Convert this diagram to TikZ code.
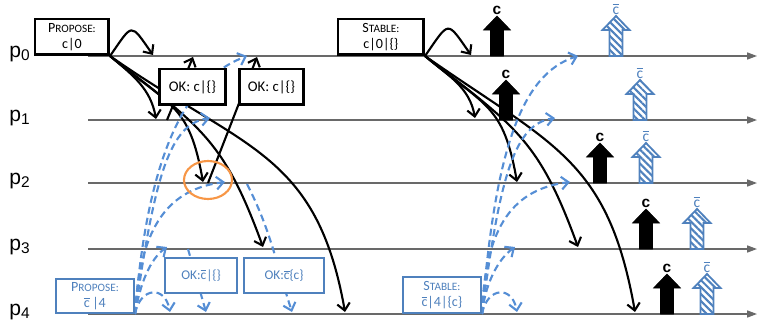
\documentclass[tikz,border=0pt]{standalone}
\usepackage{fontspec}
\setmainfont{Carlito}
\newfontfamily\arialfont{Liberation Sans}
\usetikzlibrary{arrows.meta,backgrounds,patterns.meta,shapes.geometric}
\definecolor{lanegray}{RGB}{105,105,105}
\definecolor{msgblue}{RGB}{85,142,213}
\definecolor{boxblue}{RGB}{79,129,189}
\definecolor{markorange}{RGB}{247,150,70}
\newcommand\fsc[2]{{\fontsize{10}{11}\selectfont #1}{\fontsize{8}{11}\selectfont #2}}
\newcommand\cbar{\(\overline{\mbox{c}}\)}
\newcommand\clabel{{\arialfont\bfseries\fontsize{11}{11}\selectfont c}}
\newcommand\cblabel{{\color{boxblue}\fontsize{11}{11}\selectfont\cbar}}
\newcommand\decide[5]{%
  \draw[#4] (#2-6.5,#3) -- (#2-6.5,#3+26) -- (#2-13.5,#3+26) -- (#2,#3+40)
    -- (#2+13.5,#3+26) -- (#2+6.5,#3+26) -- (#2+6.5,#3) -- cycle;
  \node[anchor=base, inner sep=0pt] (#1) at (#2,#3+42) {#5};}
\begin{document}
\begin{tikzpicture}[x=0.025cm, y=0.025cm,
  lane/.style={draw=lanegray, line width=0.9pt, -{Triangle[length=7pt,width=5pt]}},
  lanelabel/.style={anchor=base west, inner sep=0pt, font=\arialfont\fontsize{15}{15}\selectfont},
  msg/.style={line width=1.5pt, -{Straight Barb[length=5pt,width=9pt]}},
  bmsg/.style={msg, draw=msgblue, dash pattern=on 5pt off 3pt},
  evbox/.style={draw, line width=1.8pt, fill=white, minimum height=0.89cm, inner sep=1pt, align=center, font=\fontsize{10}{11}\selectfont},
  bevbox/.style={evbox, draw=boxblue, text=boxblue, line width=1.5pt},
  okbox/.style={evbox, font=\fontsize{10.5}{12}\selectfont},
  bokbox/.style={bevbox, minimum height=0.875cm, font=\fontsize{9.5}{11}\selectfont},
  cmark/.style={fill=black},
  bmark/.style={draw=boxblue, line width=1.3pt, pattern={Lines[angle=-45,distance=3.5pt,line width=1.5pt]}, pattern color=boxblue}]
  \useasboundingbox (0,0) rectangle (757,324);
  \foreach \i/\y in {0/268,1/204,2/141,3/75,4/10} {
    \node[lanelabel] (lab\i) at (9,\y-1) {p\raisebox{-2.5pt}{\fontsize{11}{11}\selectfont\i}};
    \coordinate (s\i) at (88,\y);
    \coordinate (e\i) at (757,\y);
  }
  % events
  \node[evbox, minimum width=1.84cm, anchor=south east] (prop) at (110,268) {\fsc{P}{ROPOSE:}\\c|0};
  \node[okbox, minimum width=1.66cm, anchor=south west] (ok1) at (158,218) {OK: c|\{\}};
  \node[okbox, minimum width=1.61cm, anchor=south west] (ok2) at (238,218) {OK: c|\{\}};
  \node[evbox, minimum width=2.14cm, anchor=south east] (stab) at (425,268) {\fsc{S}{TABLE:}\\c|0|\{\}};
  \node[bevbox, minimum width=1.95cm, minimum height=0.85cm, anchor=south east] (bprop) at (135,10) {\fsc{P}{ROPOSE:}\\\cbar\,|4};
  \node[bokbox, minimum width=1.8cm, anchor=south west] (bok1) at (164,30) {OK:\cbar|\{\}};
  \node[bokbox, minimum width=2.0cm, anchor=south west] (bok2) at (243,30) {OK:\cbar\{c\}};
  \node[bevbox, minimum width=1.95cm, minimum height=0.9cm, anchor=south east] (bstab) at (482,10) {\fsc{S}{TABLE:}\\\cbar|4|\{c\}};
  \node[draw=markorange, line width=1.5pt, ellipse, minimum width=1.2cm, minimum height=0.95cm] (clash) at (208,144) {};
  % message ends
  \coordinate (pr-self) at (153,269);
  \coordinate (pr-1) at (156,205);
  \coordinate (pr-2) at (203,142);
  \coordinate (pr-3) at (263,77);
  \coordinate (pr-4) at (345,12);
  \coordinate (ok1-from) at (167,204);
  \coordinate (ok1-to) at (193,267);
  \coordinate (ok2-from) at (208,141);
  \coordinate (ok2-to) at (257,267);
  \coordinate (st-self) at (471,269);
  \coordinate (st-1) at (475,206);
  \coordinate (st-2) at (517,142);
  \coordinate (st-3) at (578,77);
  \coordinate (st-4) at (635,12);
  \coordinate (bpr-0) at (247,268);
  \coordinate (bpr-1) at (210,206);
  \coordinate (bpr-2) at (225,142);
  \coordinate (bpr-3) at (167,77);
  \coordinate (bpr-self) at (170,12);
  \coordinate (bok1-from) at (188,75);
  \coordinate (bok1-to) at (206,12);
  \coordinate (bok2-from) at (247,140);
  \coordinate (bok2-to) at (292,12);
  \coordinate (bst-0) at (578,268);
  \coordinate (bst-1) at (555,206);
  \coordinate (bst-2) at (570,142);
  \coordinate (bst-3) at (515,77);
  \coordinate (bst-self) at (517,12);
  \begin{scope}[on background layer]
    \foreach \i in {0,...,4} \draw[lane] (s\i) -- (e\i);
    \draw[msg] (prop.south east) to[out=55,in=125,looseness=2.4] (pr-self);
    \draw[msg] (prop.south east) to[out=-40,in=100] (pr-1);
    \draw[msg] (prop.south east) to[out=-40,in=100,looseness=1.3] (pr-2);
    \draw[msg] (prop.south east) to[out=-38,in=110,looseness=1.2] (pr-3);
    \draw[msg] (prop.south east) to[out=-35,in=100,looseness=1.2] (pr-4);
    \draw[msg] (ok1-from) -- (ok1-to);
    \draw[msg] (ok2-from) -- (ok2-to);
    \draw[msg] (stab.south east) to[out=55,in=125,looseness=2.4] (st-self);
    \draw[msg] (stab.south east) to[out=-40,in=100] (st-1);
    \draw[msg] (stab.south east) to[out=-40,in=100,looseness=1.3] (st-2);
    \draw[msg] (stab.south east) to[out=-38,in=110,looseness=1.2] (st-3);
    \draw[msg] (stab.south east) to[out=-35,in=100,looseness=1.2] (st-4);
    \draw[bmsg] (bprop.south east) .. controls +(15,190) and +(-47,-18) .. (bpr-0);
    \draw[bmsg] (bprop.south east) .. controls +(20,140) and +(-40,-6) .. (bpr-1);
    \draw[bmsg] (bprop.south east) .. controls +(5,90) and +(-55,-7) .. (bpr-2);
    \draw[bmsg] (bprop.south east) .. controls +(5,30) and +(-17,-12) .. (bpr-3);
    \draw[bmsg] (bprop.south east) .. controls +(5,27) and +(-5,27) .. (bpr-self);
    \draw[bmsg] (bok1-from) -- (bok1-to);
    \draw[bmsg] (bok2-from) to[out=-63,in=108] (bok2-to);
    \draw[bmsg] (bstab.south east) .. controls +(13,160) and +(-58,-18) .. (bst-0);
    \draw[bmsg] (bstab.south east) .. controls +(18,140) and +(-40,-6) .. (bst-1);
    \draw[bmsg] (bstab.south east) .. controls +(3,90) and +(-55,-7) .. (bst-2);
    \draw[bmsg] (bstab.south east) .. controls +(3,30) and +(-17,-12) .. (bst-3);
    \draw[bmsg] (bstab.south east) .. controls +(5,27) and +(-5,27) .. (bst-self);
  \end{scope}
  % decisions
  \decide{c0}{497}{268}{cmark}{\clabel}
  \decide{c1}{506}{204}{cmark}{\clabel}
  \decide{c2}{600}{141}{cmark}{\clabel}
  \decide{c3}{646}{75}{cmark}{\clabel}
  \decide{c4}{667}{10}{cmark}{\clabel}
  \decide{cb0}{616}{268}{bmark}{\cblabel}
  \decide{cb1}{640}{204}{bmark}{\cblabel}
  \decide{cb2}{646}{141}{bmark}{\cblabel}
  \decide{cb3}{697}{75}{bmark}{\cblabel}
  \decide{cb4}{707}{10}{bmark}{\cblabel}
\end{tikzpicture}
\end{document}
